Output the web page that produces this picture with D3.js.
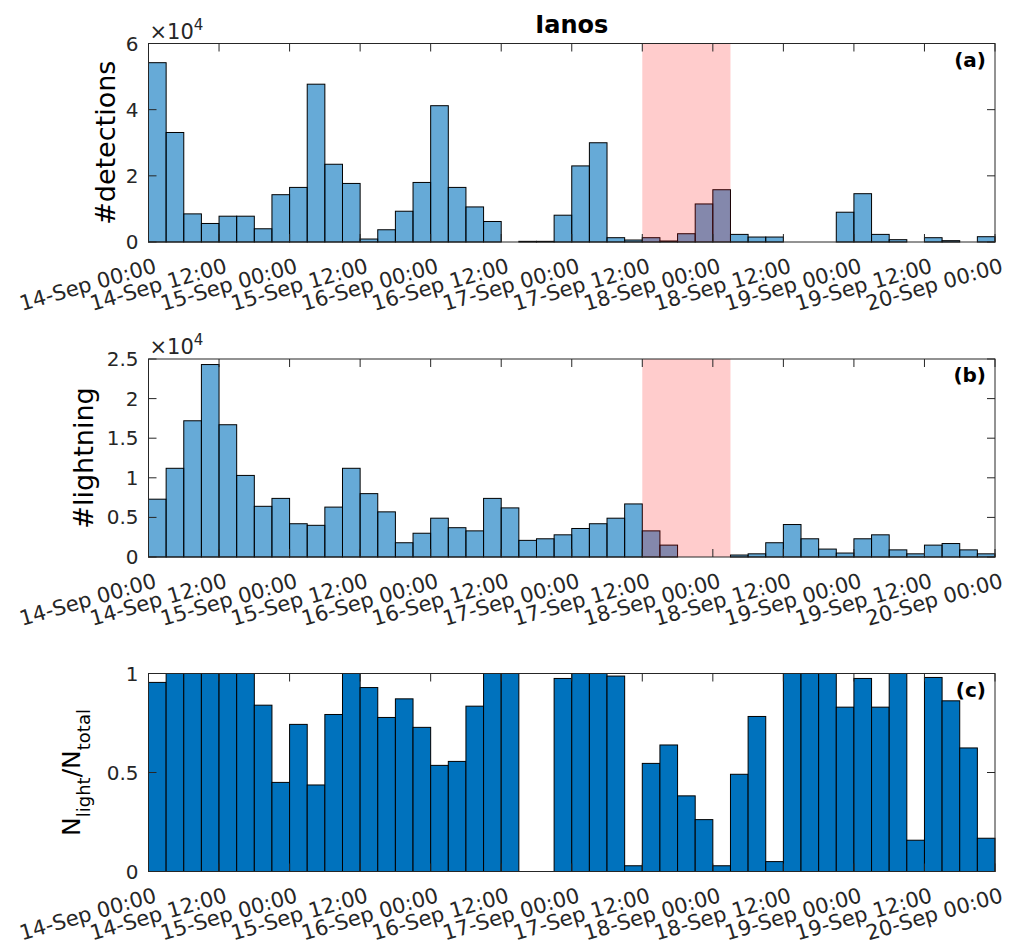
<!DOCTYPE html>
<html>
<head>
<meta charset="utf-8">
<script src="https://cdn.jsdelivr.net/npm/d3@7"></script>
<style>
  html, body { margin: 0; padding: 0; background: #fff; }
  svg { display: block; font-family: "DejaVu Sans", sans-serif; }
</style>
</head>
<body>
<svg id="chart" width="1011" height="948"></svg>
<script>
// ---------------- data ----------------
const startTime = "2020-09-14T00:00:00Z";
const binHours = 3;
const tickLabels = ["14-Sep 00:00","14-Sep 12:00","15-Sep 00:00","15-Sep 12:00","16-Sep 00:00","16-Sep 12:00","17-Sep 00:00","17-Sep 12:00","18-Sep 00:00","18-Sep 12:00","19-Sep 00:00","19-Sep 12:00","20-Sep 00:00"];
const detections = [54200,33100,8500,5600,7800,7800,4000,14300,16500,47700,
                    23500,17700,900,3700,9300,18000,41200,16500,10600,6200,
                    0,200,200,8100,23000,30000,1300,600,1300,300,
                    2500,11500,15800,2300,1500,1500,0,0,0,9000,
                    14600,2300,700,0,1300,400,0,1600];
const lightning = [7300,11200,17200,24300,16700,10300,6400,7400,4200,4000,
                   6300,11200,8000,5700,1800,3000,4900,3700,3300,7400,
                   6200,2100,2300,2800,3600,4200,4900,6700,3300,1500,
                   0,0,0,250,400,1800,4100,2300,1000,500,
                   2300,2800,900,400,1500,1700,900,400];
const ratio = [0.955,1,1,1,1,1,0.84,0.45,0.743,0.437,
               0.793,1,0.929,0.778,0.872,0.728,0.536,0.556,0.835,1,
               1,0,0,0.975,1,1,0.987,0.029,0.546,0.639,
               0.382,0.262,0.029,0.491,0.783,0.05,1,1,1,0.83,
               0.975,0.83,1,0.158,0.98,0.862,0.624,0.168];
const highlightHours = [84, 99];
const yTicksA = [0, 20000, 40000, 60000];
const yTicksB = [0, 5000, 10000, 15000, 20000, 25000];
const yTicksC = [0, 0.5, 1];

// ---------------- layout ----------------
const svg = d3.select("#chart");
svg.append("rect").attr("width", 1011).attr("height", 948).attr("fill", "#fff");
const axisColor = "#262626";
const left = 148.5, right = 995;
const t0 = new Date(startTime);
const hour = 3600 * 1000;
const x = d3.scaleUtc()
  .domain([t0, new Date(+t0 + 144 * hour)])
  .range([left, right]);
const tickDates = tickLabels.map((_, i) => new Date(+t0 + i * 12 * hour));

function panel(opts) {
  const { top, bottom, values, yMax, yTicks, fmt, fill, fillOpacity, ylabel, tag, exp, highlight } = opts;
  const y = d3.scaleLinear().domain([0, yMax]).range([bottom, top]);
  const g = svg.append("g");

  // bars
  g.selectAll("rect.bar").data(values).join("rect")
    .attr("class", "bar")
    .attr("x", (d, i) => x(new Date(+t0 + i * binHours * hour)))
    .attr("width", (d, i) => x(new Date(+t0 + (i + 1) * binHours * hour)) - x(new Date(+t0 + i * binHours * hour)))
    .attr("y", d => y(d))
    .attr("height", d => y(0) - y(d))
    .attr("fill", fill)
    .attr("fill-opacity", fillOpacity)
    .attr("stroke", d => d > 0 ? "#000" : "none")
    .attr("stroke-width", 1);

  // highlight patch (drawn over bars, translucent red)
  if (highlight) {
    const x0 = x(new Date(+t0 + highlightHours[0] * hour));
    const x1 = x(new Date(+t0 + highlightHours[1] * hour));
    g.append("rect")
      .attr("x", x0).attr("width", x1 - x0)
      .attr("y", top).attr("height", bottom - top)
      .attr("fill", "#ff0000").attr("fill-opacity", 0.2);
  }

  // box
  g.append("rect")
    .attr("x", left).attr("y", top)
    .attr("width", right - left).attr("height", bottom - top)
    .attr("fill", "none").attr("stroke", axisColor).attr("stroke-width", 1);

  const tl = 8;
  // x ticks (inward, top and bottom)
  tickDates.forEach(d => {
    const xx = x(d);
    g.append("line").attr("x1", xx).attr("x2", xx).attr("y1", bottom).attr("y2", bottom - tl)
      .attr("stroke", axisColor).attr("stroke-width", 1);
    g.append("line").attr("x1", xx).attr("x2", xx).attr("y1", top).attr("y2", top + tl)
      .attr("stroke", axisColor).attr("stroke-width", 1);
  });
  // y ticks (inward, left and right)
  yTicks.forEach(v => {
    const yy = y(v);
    g.append("line").attr("x1", left).attr("x2", left + tl).attr("y1", yy).attr("y2", yy)
      .attr("stroke", axisColor).attr("stroke-width", 1);
    g.append("line").attr("x1", right).attr("x2", right - tl).attr("y1", yy).attr("y2", yy)
      .attr("stroke", axisColor).attr("stroke-width", 1);
    g.append("text")
      .attr("x", left - 10).attr("y", yy)
      .attr("text-anchor", "end").attr("dominant-baseline", "central")
      .attr("font-size", 20).attr("fill", axisColor)
      .text(fmt(v));
  });

  // x tick labels, rotated
  tickDates.forEach((d, i) => {
    g.append("text")
      .attr("transform", `translate(${x(d) + 9},${bottom + 30}) rotate(-16)`)
      .attr("text-anchor", "end")
      .attr("font-size", 21).attr("fill", axisColor)
      .text(tickLabels[i]);
  });

  // exponent
  if (exp) {
    const t = g.append("text").attr("x", left + 1).attr("y", top - 5)
      .attr("font-size", 21).attr("fill", axisColor);
    t.append("tspan").text("\u00d710");
    t.append("tspan").attr("dy", -9).attr("font-size", 15).text("4");
  }

  // panel tag
  g.append("text")
    .attr("x", right - 9).attr("y", top + 23)
    .attr("text-anchor", "end").attr("font-size", 20).attr("font-weight", "bold")
    .attr("fill", "#000").text(tag);

  // y label
  const yl = g.append("text")
    .attr("transform", `translate(${opts.ylabelX},${(top + bottom) / 2}) rotate(-90)`)
    .attr("text-anchor", "middle")
    .attr("font-size", opts.ylabelSize).attr("fill", "#000");
  if (typeof ylabel === "string") {
    yl.text(ylabel);
  } else {
    ylabel.forEach(p => {
      const ts = yl.append("tspan").text(p.t);
      if (p.sub) ts.attr("font-size", 18).attr("baseline-shift", -10);
    });
  }
}

panel({ top: 43.5, bottom: 242, values: detections, yMax: 60000, yTicks: yTicksA,
  fmt: v => d3.format("~g")(v / 1e4), fill: "rgb(0,114,189)", fillOpacity: 0.6,
  ylabel: "#detections", ylabelX: 115, ylabelSize: 27, tag: "(a)", exp: true, highlight: true });

panel({ top: 359, bottom: 557, values: lightning, yMax: 25000, yTicks: yTicksB,
  fmt: v => d3.format("~g")(v / 1e4), fill: "rgb(0,114,189)", fillOpacity: 0.6,
  ylabel: "#lightning", ylabelX: 93, ylabelSize: 27, tag: "(b)", exp: true, highlight: true });

panel({ top: 673.5, bottom: 871.5, values: ratio, yMax: 1, yTicks: yTicksC,
  fmt: v => d3.format("~g")(v), fill: "#0072BD", fillOpacity: 1,
  ylabel: [{t: "N"}, {t: "light", sub: true}, {t: "/N"}, {t: "total", sub: true}],
  ylabelX: 80, ylabelSize: 25, tag: "(c)", exp: false, highlight: false });

// title
svg.append("text")
  .attr("x", (left + right) / 2).attr("y", 33)
  .attr("text-anchor", "middle").attr("font-size", 24).attr("font-weight", "bold")
  .attr("fill", "#000").text("Ianos");
</script>
</body>
</html>
